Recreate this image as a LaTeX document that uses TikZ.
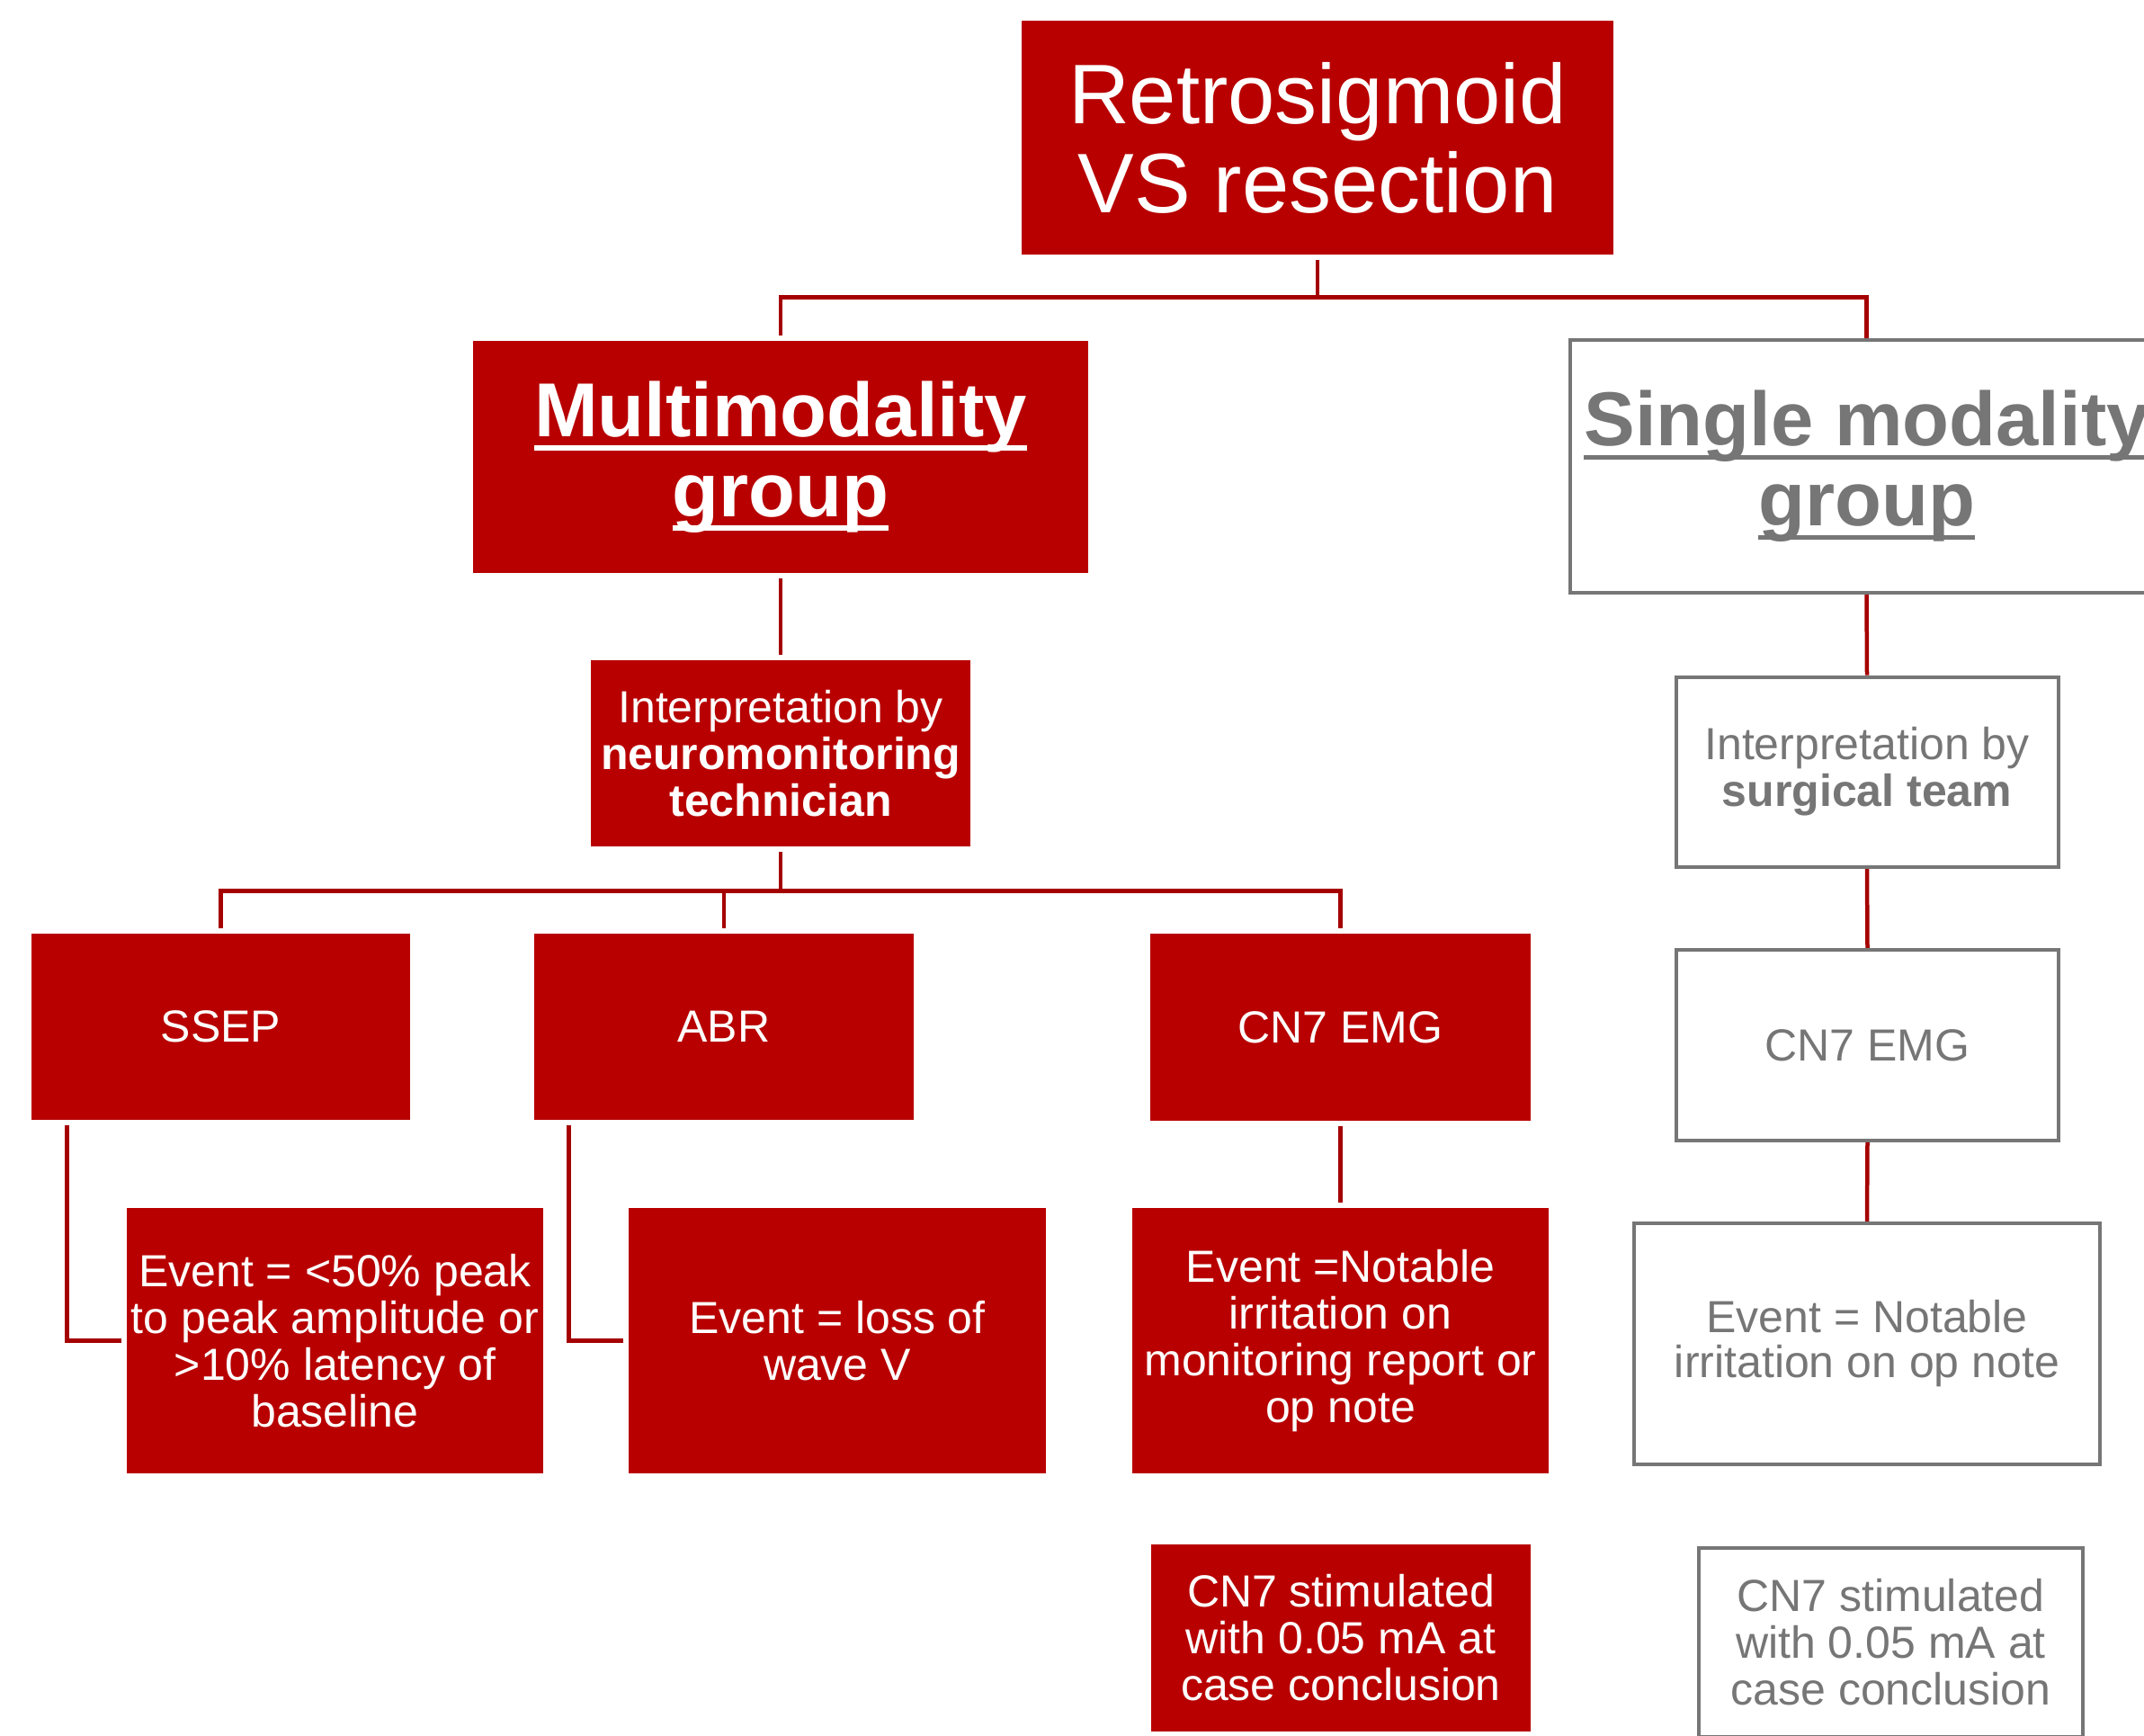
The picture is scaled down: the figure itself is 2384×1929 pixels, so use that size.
\documentclass[tikz,border=0pt]{standalone}
\usepackage{fontspec}
\setmainfont{Liberation Sans}
\definecolor{boxred}{RGB}{184,0,0}
\definecolor{linered}{RGB}{165,0,0}
\definecolor{boxgray}{RGB}{118,118,118}
\newcommand\myul[1]{\setbox0=\hbox{#1}\rlap{\raisebox{-7.7pt}{\rule{\wd0}{2.7pt}}}\box0}
\pgfdeclarelayer{bg}
\pgfsetlayers{bg,main}
\begin{document}
\begin{tikzpicture}[x=0.5pt,y=-0.5pt,
  redbox/.style={fill=boxred, text=white, align=center, inner sep=0pt, font=\fontsize{25pt}{26pt}\selectfont},
  graybox/.style={draw=boxgray, line width=2pt, fill=white, text=boxgray, align=center, inner sep=0pt, font=\fontsize{25pt}{26pt}\selectfont},
  conn/.style={draw=linered, line width=2.25pt},
  gap/.style={shorten <=3pt, shorten >=3pt}]
\useasboundingbox (0,0) rectangle (2384,1929);
\begin{pgfonlayer}{bg}
\fill[white] (0,0) rectangle (2384,1929);
\end{pgfonlayer}
\clip (0,0) rectangle (2384,1929);

% red column
\node[redbox, minimum width=329pt, minimum height=130pt, font=\fontsize{47pt}{49.5pt}\selectfont] (top) at (1465,153) {Retrosigmoid\\VS resection};
\node[redbox, minimum width=342pt, minimum height=129pt, font=\fontsize{42.5pt}{44.5pt}\selectfont\bfseries] (multi) at (868,508) {\myul{Multimodality}\\\myul{group}};
\node[redbox, minimum width=211pt, minimum height=103.5pt] (interp) at (868,837.5) {Interpretation by\\\textbf{neuromonitoring}\\\textbf{technician}};
\node[redbox, minimum width=210.5pt, minimum height=103.5pt] (ssep) at (245.5,1141.5) {SSEP};
\node[redbox, minimum width=211pt, minimum height=103.5pt] (abr) at (805,1141.5) {ABR};
\node[redbox, minimum width=211.5pt, minimum height=104pt] (cn7) at (1490.5,1142) {CN7 EMG};
\node[redbox, minimum width=231.5pt, minimum height=147.5pt] (ssepev) at (372.5,1490.5) {Event = <50\% peak\\to peak amplitude or\\>10\% latency of\\baseline};
\node[redbox, minimum width=232pt, minimum height=147.5pt] (abrev) at (931,1490.5) {Event = loss of\\wave V};
\node[redbox, minimum width=231.5pt, minimum height=147.5pt] (cn7ev) at (1490.5,1490.5) {Event =Notable\\irritation on\\monitoring report or\\op note};
\node[redbox, minimum width=211pt, minimum height=104pt] (cn7st) at (1491,1821) {CN7 stimulated\\with 0.05 mA at\\case conclusion};

% gray column
\node[graybox, minimum width=329.5pt, minimum height=140.5pt, font=\fontsize{42.5pt}{44.5pt}\selectfont\bfseries] (single) at (2075.5,518.5) {\myul{Single modality}\\\myul{group}};
\node[graybox, minimum width=212.5pt, minimum height=105.5pt] (ginterp) at (2076,858) {Interpretation by\\\textbf{surgical team}};
\node[graybox, minimum width=212.5pt, minimum height=106pt] (gcn7) at (2076.5,1162) {CN7 EMG};
\node[graybox, minimum width=259pt, minimum height=134pt, font=\fontsize{25pt}{25pt}\selectfont] (gev) at (2076,1494) {Event = Notable\\irritation on op note};
\node[graybox, minimum width=213.5pt, minimum height=105pt] (gst) at (2102.5,1826) {CN7 stimulated\\with 0.05 mA at\\case conclusion};

\begin{pgfonlayer}{bg}
\path (top.south) ++(0,47) coordinate (b1);
\draw[conn, shorten <=3pt] (top.south) -- (b1);
\draw[conn, shorten <=3pt] (multi.north) |- (b1) -| (single.north);
\draw[conn, gap] (multi.south) -- (interp.north);
\path (interp.south) ++(0,49) coordinate (b2);
\draw[conn, shorten <=3pt] (interp.south) -- (b2);
\draw[conn, gap] (ssep.north) |- (b2) -| (cn7.north);
\draw[conn, shorten >=3pt] (abr.north |- b2) -- (abr.north);
\draw[conn, gap] ([xshift=20pt]ssep.south west) |- (ssepev.west);
\draw[conn, gap] ([xshift=19.5pt]abr.south west) |- (abrev.west);
\draw[conn, gap] (cn7.south) -- (cn7ev.north);
\draw[conn] (single.south) -- (ginterp.north);
\draw[conn] (ginterp.south) -- (gcn7.north);
\draw[conn] (gcn7.south) -- (gev.north);
\end{pgfonlayer}
\end{tikzpicture}
\end{document}
